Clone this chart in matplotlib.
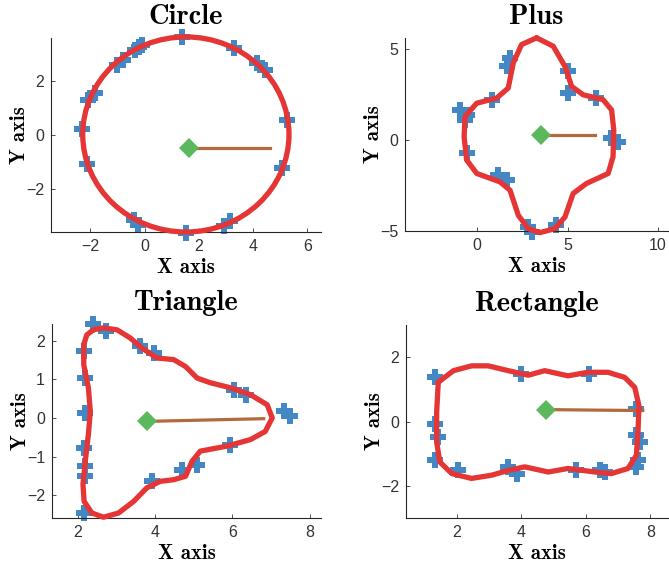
import matplotlib
matplotlib.use("Agg")
import matplotlib.pyplot as plt
from matplotlib.patches import Ellipse

# ---- data ----
# Circle
circle_pts_x = [1.37, -0.19, -0.35, -0.10, -1.03, -0.81, -2.07, -1.83, -2.32, -2.13,
                -0.38, -0.25, 1.53, 2.91, 3.15, 3.28, 4.14, 4.45, 5.25, 5.06]
circle_pts_y = [3.65, 3.30, 3.18, 3.37, 2.62, 2.81, 1.32, 1.57, 0.24, -1.08,
                -3.16, -3.35, -3.65, -3.40, -3.22, 3.24, 2.68, 2.43, 0.57, -1.23]
circle_center = (1.52, 0.02)
circle_size = (7.6, 7.28)
circle_mark = (1.62, -0.48)
circle_end = (4.61, -0.48)

# Plus
plus_curve_x = [3.28, 4.20, 4.85, 5.22, 5.86, 6.96, 7.43, 7.55, 7.51, 7.24, 6.04, 5.30,
                4.85, 4.29, 3.46, 2.82, 2.27, 1.81, 1.25, -0.03, -0.59, -0.73, -0.68,
                -0.03, 1.07, 1.71, 1.99, 2.45, 3.28]
plus_curve_y = [5.61, 5.15, 4.04, 2.94, 2.48, 2.21, 1.65, 0.55, -0.92, -1.84, -2.39, -2.94,
                -4.23, -4.87, -5.09, -4.87, -4.14, -2.76, -2.30, -1.84, -1.10, 0.18, 1.29,
                2.02, 2.30, 2.85, 4.23, 5.24, 5.61]
plus_pts_x = [1.80, 1.62, 5.03, 5.03, 6.59, 7.42, 7.79, -0.96, -0.59, -0.68, -0.59,
              0.79, 1.16, 1.62, 2.78, 3.00, 4.38]
plus_pts_y = [4.50, 4.04, 3.77, 2.57, 2.30, 0.09, -0.09, 1.65, 1.38, 1.10, -0.74,
              2.21, -1.93, -2.21, -4.78, -5.06, -4.69]
plus_mark = (3.55, 0.28)
plus_end = (6.50, 0.28)

# Triangle
tri_curve_x = [2.41, 2.67, 3.02, 3.36, 3.66, 4.05, 4.48, 4.79, 5.09, 5.43, 5.95, 6.47,
               6.90, 7.03, 6.85, 6.47, 5.86, 5.17, 4.96, 4.79, 4.48, 4.14, 3.79, 3.45,
               3.06, 2.67, 2.37, 2.17, 2.14, 2.20, 2.28, 2.33, 2.28, 2.16, 2.16, 2.24, 2.41]
tri_curve_y = [2.28, 2.33, 2.28, 2.07, 1.81, 1.55, 1.51, 1.33, 1.03, 0.91, 0.78, 0.60,
               0.34, 0.0, -0.35, -0.56, -0.73, -0.86, -1.12, -1.51, -1.60, -1.64, -1.81, -2.16,
               -2.46, -2.57, -2.46, -2.16, -1.72, -1.12, -0.43, 0.17, 0.78, 1.38, 1.90, 2.15, 2.28]
tri_pts_x = [2.41, 2.74, 3.62, 3.97, 6.03, 6.34, 7.33, 7.50, 5.95, 4.70, 5.09, 3.92,
             2.16, 2.20, 2.20, 2.16, 2.20, 2.20, 2.16]
tri_pts_y = [2.43, 2.26, 1.85, 1.68, 0.73, 0.60, 0.17, 0.04, -0.69, -1.34, -1.21, -1.64,
             1.72, 1.03, 0.13, -0.78, -1.25, -1.51, -2.46]
tri_mark = (3.79, -0.09)
tri_end = (6.81, -0.02)

# Rectangle
rect_curve_x = [1.43, 1.90, 2.46, 2.98, 3.60, 4.22, 4.73, 5.45, 6.07, 6.69, 7.21, 7.52,
                7.65, 7.62, 7.57, 7.31, 6.79, 6.28, 5.45, 4.84, 4.11, 3.60, 3.08, 2.46,
                1.85, 1.48, 1.38, 1.38, 1.43]
rect_curve_y = [1.22, 1.58, 1.73, 1.73, 1.58, 1.44, 1.58, 1.42, 1.53, 1.53, 1.37, 1.06,
                0.49, -0.33, -1.05, -1.46, -1.62, -1.57, -1.46, -1.57, -1.41, -1.52, -1.67, -1.77,
                -1.62, -1.26, -0.64, 0.29, 1.22]
rect_pts_x = [1.33, 1.33, 1.43, 1.33, 2.05, 3.60, 3.86, 4.00, 6.09, 5.71, 6.43, 6.59,
              7.57, 7.57, 7.67, 7.62, 7.57]
rect_pts_y = [1.37, -0.07, -0.48, -1.21, -1.52, -1.41, -1.62, 1.47, 1.47, -1.52, -1.52, -1.57,
              0.39, -0.43, -0.64, -1.21, -1.41]
rect_mark = (4.78, 0.37)
rect_end = (7.77, 0.34)

BLUE = "#4487c5"
RED = "#e53535"
GREEN = "#5cb85c"
BROWN = "#b3693c"

W, H = 669, 570
fig = plt.figure(figsize=(W / 100, H / 100), dpi=100)


def make_axes(left, right, top, bottom):
    return fig.add_axes([left / W, 1 - bottom / H, (right - left) / W, (bottom - top) / H])


def style(ax, title, xlim, ylim, xticks, yticks):
    ax.set_xlim(*xlim)
    ax.set_ylim(*ylim)
    ax.set_xticks(xticks)
    ax.set_yticks(yticks)
    for s in ["top", "right"]:
        ax.spines[s].set_visible(False)
    for s in ["left", "bottom"]:
        ax.spines[s].set_color("#262626")
        ax.spines[s].set_linewidth(0.8)
    ax.tick_params(direction="in", length=3, width=0.6, colors="#333333",
                   labelsize=11.5, pad=5)
    for lab in ax.get_xticklabels() + ax.get_yticklabels():
        lab.set_fontfamily("Liberation Sans")
    ax.set_title(title, fontfamily="cmb10", fontsize=20.5, pad=10)
    ax.set_xlabel("X axis", fontfamily="cmb10", fontsize=15, labelpad=3)
    ax.set_ylabel("Y axis", fontfamily="cmb10", fontsize=15, labelpad=-2)


def draw_extras(ax, px, py, mark, end):
    ax.plot(px, py, linestyle="none", marker="P", markersize=11,
            color=BLUE, markeredgewidth=0, zorder=2, clip_on=False)
    ax.plot([mark[0], end[0]], [mark[1], end[1]], color=BROWN, linewidth=2.3,
            zorder=3, clip_on=False)
    ax.plot([mark[0]], [mark[1]], linestyle="none", marker="D", markersize=10,
            color=GREEN, markeredgewidth=0, zorder=4, clip_on=False)


def draw_curve(ax, cx, cy):
    ax.plot(cx, cy, color=RED, linewidth=3.8, solid_joinstyle="round",
            solid_capstyle="round", zorder=5, clip_on=False)


# Circle
ax1 = make_axes(51, 321, 38, 232)
draw_extras(ax1, circle_pts_x, circle_pts_y, circle_mark, circle_end)
ax1.add_patch(Ellipse(circle_center, circle_size[0], circle_size[1], fill=False,
                      edgecolor=RED, linewidth=3.8, zorder=5, clip_on=False))
style(ax1, "Circle", (-3.45, 6.5), (-3.62, 3.62), [-2, 0, 2, 4, 6], [-2, 0, 2])

# Plus
ax2 = make_axes(405, 668, 38, 231)
draw_extras(ax2, plus_pts_x, plus_pts_y, plus_mark, plus_end)
draw_curve(ax2, plus_curve_x, plus_curve_y)
style(ax2, "Plus", (-4.0, 10.55), (-5.0, 5.6), [0, 5, 10], [-5, 0, 5])

# Triangle
ax3 = make_axes(52, 321, 324, 518)
draw_extras(ax3, tri_pts_x, tri_pts_y, tri_mark, tri_end)
draw_curve(ax3, tri_curve_x, tri_curve_y)
style(ax3, "Triangle", (1.34, 8.29), (-2.59, 2.43), [2, 4, 6, 8], [-2, -1, 0, 1, 2])

# Rectangle
ax4 = make_axes(406, 668, 325, 518)
draw_extras(ax4, rect_pts_x, rect_pts_y, rect_mark, rect_end)
draw_curve(ax4, rect_curve_x, rect_curve_y)
style(ax4, "Rectangle", (0.43, 8.55), (-3.0, 3.0), [2, 4, 6, 8], [-2, 0, 2])

fig.savefig("out.png", dpi=100)
